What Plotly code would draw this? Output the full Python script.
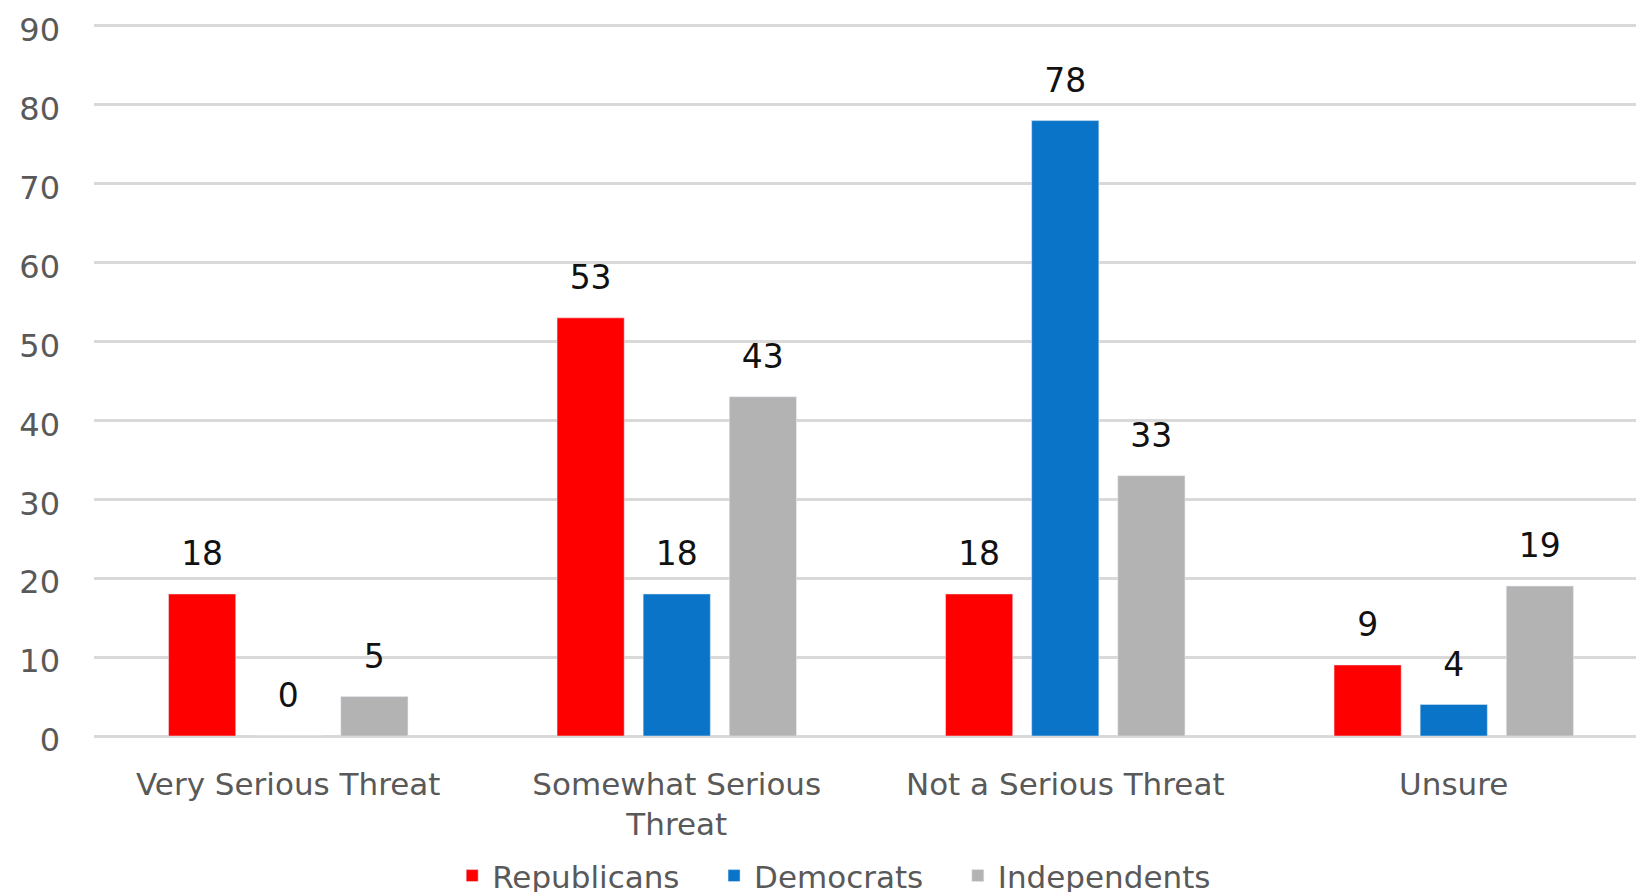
import plotly.graph_objects as go

categories = ["Very Serious Threat", "Somewhat Serious<br>Threat", "Not a Serious Threat", "Unsure"]
republicans = [18, 53, 18, 9]
democrats = [0, 18, 78, 4]
independents = [5, 43, 33, 19]
series_names = ["Republicans", "Democrats", "Independents"]
colors = ["#FF0000", "#0A74C8", "#B3B3B3"]
y_ticks = [0, 10, 20, 30, 40, 50, 60, 70, 80, 90]

FONT = "DejaVu Sans"
PAD = "\u00a0\u00a0\u00a0"
fig = go.Figure()
for name, vals, col in zip(series_names, [republicans, democrats, independents], colors):
    fig.add_trace(go.Bar(
        name=name + PAD, x=categories, y=vals, marker_color=col,
        hoverinfo="skip",
    ))
# value labels, grouped like the bars
for name, vals in zip(series_names, [republicans, democrats, independents]):
    fig.add_trace(go.Scatter(
        name=name + " labels", x=categories, y=vals, mode="markers+text",
        text=[str(v) for v in vals], textposition="top center",
        textfont=dict(size=33, color="#111111", family=FONT),
        marker=dict(size=31, opacity=0), showlegend=False, hoverinfo="skip",
        cliponaxis=False,
    ))

fig.update_layout(
    width=1644, height=892,
    paper_bgcolor="white", plot_bgcolor="white",
    barmode="group", bargap=0.335, bargroupgap=0.22,
    scattermode="group", scattergap=0.335,
    margin=dict(l=86, r=4, t=14, b=164, autoexpand=False),
    font=dict(family=FONT, color="#595959", size=31),
    legend=dict(orientation="h", x=0.2305, xanchor="left", y=-0.196, yanchor="middle",
                font=dict(size=31, color="#595959"), traceorder="normal"),
    showlegend=True,
)
fig.update_yaxes(range=[0, 90.5], tickvals=y_ticks, showgrid=True, gridcolor="#D9D9D9", gridwidth=3,
                 zeroline=True, zerolinecolor="#D9D9D9", zerolinewidth=3, automargin=False,
                 tickfont=dict(size=32, color="#595959"), ticks="", ticklabelstandoff=33,
                 ticklabelshift=4, ticklabeloverflow="allow")
fig.update_xaxes(tickfont=dict(size=31, color="#595959"), showline=False, ticks="",
                 ticklabelstandoff=27, automargin=False, ticklabeloverflow="allow")

fig.write_html("out.html")
